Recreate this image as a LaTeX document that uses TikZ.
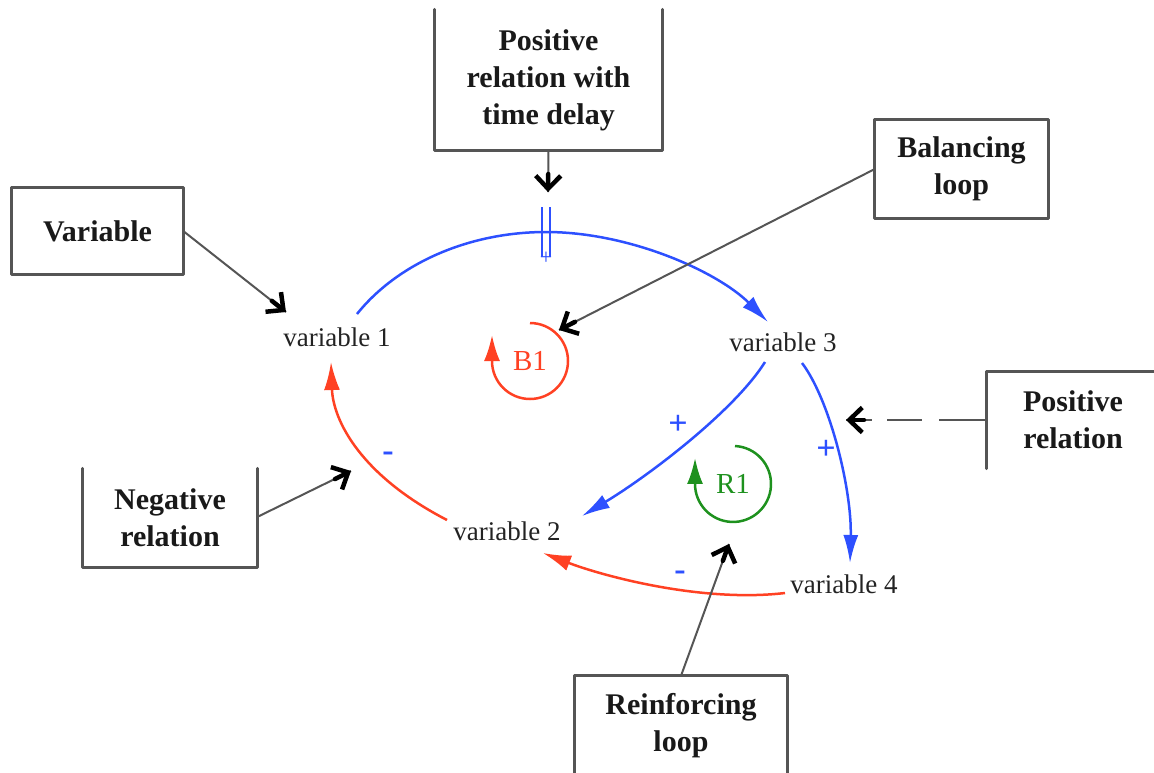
\documentclass[tikz,border=0pt]{standalone}
\usepackage{fontspec}
\setmainfont{Liberation Serif}
\usetikzlibrary{arrows.meta,calc}
\definecolor{cblue}{RGB}{45,80,255}
\definecolor{cred}{RGB}{255,65,35}
\definecolor{cgreen}{RGB}{30,145,30}
\definecolor{cgray}{RGB}{85,85,85}
\definecolor{ctext}{RGB}{35,35,35}
\tikzset{
  boxtxt/.style={font=\fontsize{30}{37}\selectfont\bfseries, text=black!90, align=center, inner sep=0pt},
  boxedge/.style={draw=cgray, line width=3pt, line cap=round, line join=round},
  varlab/.style={font=\fontsize{27}{32}\selectfont, text=ctext, inner sep=0pt},
  bluelink/.style={draw=cblue, line width=2.5pt, -{Latex[length=28pt,width=15pt]}},
  redlink/.style={draw=cred, line width=2.5pt, -{Latex[length=28pt,width=16pt]}},
  pointer/.style={draw=cgray, line width=2pt},
  pointtip/.style={draw=black, line width=4.5pt, line cap=round, line join=round, -{Straight Barb[length=13pt,width=25pt]}},
  pol/.style={text=cblue, font=\fontsize{34}{34}\selectfont\bfseries, inner sep=0pt},
  looptxt/.style={font=\fontsize{29}{29}\selectfont, inner sep=0pt},
  loopline/.style={line width=2.5pt, -{Latex[length=26pt,width=16pt]}}
}
\begin{document}
\begin{tikzpicture}[x=1pt,y=-1pt]
\useasboundingbox (0,0) rectangle (1154,772);
\clip (0,0) rectangle (1154,772);

% boxes
\node[boxtxt, minimum width=227pt, minimum height=141pt] (tb) at (548.5,80) {Positive\\relation with\\time delay};
\node[boxtxt, minimum width=171pt, minimum height=87pt] (vb) at (97.5,231) {Variable};
\node[boxtxt, minimum width=174pt, minimum height=99pt] (nb) at (170,518) {Negative\\relation};
\node[boxtxt, minimum width=173pt, minimum height=98pt] (bb) at (961.5,169) {Balancing\\loop};
\node[boxtxt, minimum width=172pt, minimum height=97pt] (pb) at (1073,420) {Positive\\relation};
\node[boxtxt, minimum width=212pt, minimum height=100pt] (rb) at (681,726) {Reinforcing\\loop};

\draw[boxedge] (tb.north west) -- (tb.south west) -- (tb.south east) -- (tb.north east);
\draw[boxedge] (vb.north west) rectangle (vb.south east);
\draw[boxedge] (nb.north west) -- (nb.south west) -- (nb.south east) -- (nb.north east);
\draw[boxedge] (bb.north west) rectangle (bb.south east);
\draw[boxedge] (pb.south west) -- (pb.north west) -- (pb.north east);
\draw[boxedge] (rb.south west) -- (rb.north west) -- (rb.north east) -- (rb.south east);

% variables
\node[varlab] (v1) at (337,337) {variable 1};
\node[varlab] (v2) at (507,531) {variable 2};
\node[varlab] (v3) at (783,342) {variable 3};
\node[varlab] (v4) at (844,584) {variable 4};

% delay point
\coordinate (dly) at (546,232);

% causal links
\draw[bluelink] ($(v1)+(20,-23)$) .. controls +(40,-50) and +(-78,0) .. (dly)
   .. controls +(84,0) and +(-50,-50) .. ($(v3)+(-15,-20)$);
\draw[redlink] ($(v2)+(-60,-11)$) .. controls +(-87,-45) and +(2,58) .. ($(v1)+(-6,25)$);
\draw[bluelink] ($(v3)+(-18,20)$) .. controls +(-30,48) and +(68,-41) .. ($(v2)+(75,-15)$);
\draw[bluelink] ($(v3)+(19,21)$) .. controls +(28,37) and +(2,-73) .. ($(v4)+(6,-21)$);
\draw[redlink] ($(v4)+(-59,9)$) .. controls +(-85,10) and +(57,22) .. ($(v2)+(36,22)$);

% delay mark
\draw[cblue, line width=2pt] ($(dly)+(-4.5,-25)$) -- ($(dly)+(-4.5,25)$);
\draw[cblue, line width=2pt] ($(dly)+(3.5,-25)$) -- ($(dly)+(3.5,25)$);
\node[pol, font=\fontsize{22}{22}\selectfont] (dp) at ($(dly)+(0,26)$) {+};

% polarities
\node[pol] (p1) at (388,457) {-};
\node[pol] (p2) at (678,425) {+};
\node[pol] (p3) at (826,450) {+};
\node[pol] (p4) at (680,576) {-};

% loops
\node[looptxt, text=cred] (b1) at (530,361) {B1};
\node[looptxt, text=cgreen] (r1) at (733,484) {R1};
\draw[loopline, draw=cred, fill=none] ($(b1)+(0,-38)$) arc[start angle=-90, end angle=180, radius=38] -- ++(0,-26);
\draw[loopline, draw=cgreen] ($(r1)+(2,-38)$) arc[start angle=-87, end angle=180, radius=38] -- ++(0,-26);

% pointer targets
\coordinate (t1) at (548,192);
\coordinate (t2) at (286,312);
\coordinate (t3) at (351,471);
\coordinate (t4) at (559,330);
\coordinate (t5) at (846,420);
\coordinate (t6) at (729,544);

\draw[pointer] (tb.south) -- (t1);
\draw[pointer] (vb.east) -- (t2);
\draw[pointer] ([yshift=1pt]nb.east) -- (t3);
\draw[pointer] (bb.west) -- (t4);
\draw[pointer, dash pattern=on 48pt off 17pt on 35pt off 15pt] (pb.west) -- (t5);
\draw[pointer] (rb.north) -- (t6);

\draw[pointtip] ($(t1)!18pt!(tb.south)$) -- (t1);
\draw[pointtip] ($(t2)!18pt!(vb.east)$) -- (t2);
\draw[pointtip] ($(t3)!18pt!(nb.east)$) -- (t3);
\draw[pointtip] ($(t4)!18pt!(bb.west)$) -- (t4);
\draw[pointtip] ($(t5)!18pt!(pb.west)$) -- (t5);
\draw[pointtip] ($(t6)!18pt!(rb.north)$) -- (t6);
\end{tikzpicture}
\end{document}
